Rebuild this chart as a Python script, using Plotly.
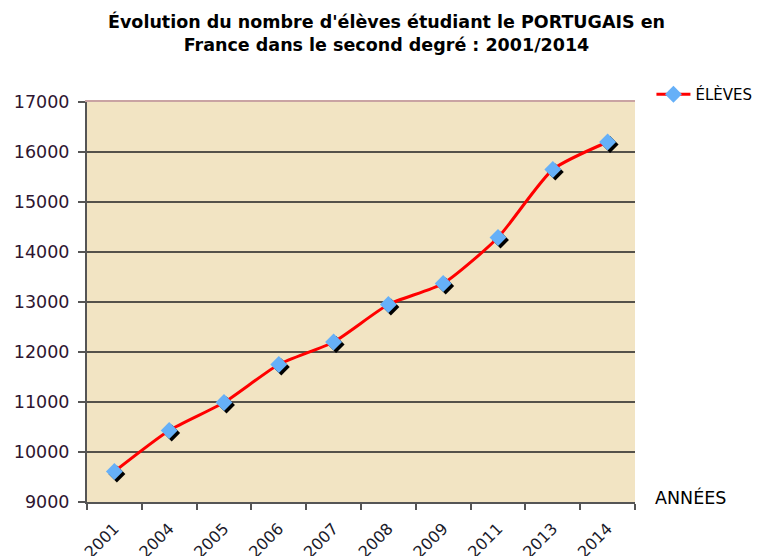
import plotly.graph_objects as go

years = ["2001", "2004", "2005", "2006", "2007", "2008", "2009", "2011", "2013", "2014"]
eleves = [9610, 10430, 10990, 11750, 12200, 12950, 13370, 14290, 15650, 16200]
y_ticks = [9000, 10000, 11000, 12000, 13000, 14000, 15000, 16000, 17000]

series_name = "ÉLÈVES"
title_text = "Évolution du nombre d'élèves étudiant le PORTUGAIS en<br>France dans le second degré : 2001/2014"
x_title = "ANNÉES"

n = len(years)
plot_w = 548.0
plot_h = 400.0
dx = 2.5 / (plot_w / n)
dy = 2.5 * (y_ticks[-1] - y_ticks[0]) / plot_h

font_main = "DejaVu Sans"

fig = go.Figure()

# invisible trace so the base axes (grid, ticks) are laid out
fig.add_trace(go.Scatter(
    x=years, y=eleves, mode="markers", marker=dict(opacity=0),
    showlegend=False, hoverinfo="skip"))

# shadow of the markers (drawn on slightly shifted overlay axes)
fig.add_trace(go.Scatter(
    x=years, y=eleves, mode="markers", xaxis="x2", yaxis="y2",
    marker=dict(symbol="diamond", size=13, color="#000000"),
    showlegend=False, hoverinfo="skip"))

# main series on an unshifted overlay above the shadow
fig.add_trace(go.Scatter(
    x=years, y=eleves, mode="lines+markers", name=series_name,
    xaxis="x3", yaxis="y3",
    line=dict(color="#ff0000", width=3, shape="spline", smoothing=0.6),
    marker=dict(symbol="diamond", size=13, color="#66b0f8",
                line=dict(width=0))))

cat_common = dict(type="category", categoryorder="array", categoryarray=years,
                  automargin=False)

fig.update_layout(
    width=757, height=548,
    margin=dict(l=79, r=130, t=94, b=54, autoexpand=False),
    paper_bgcolor="white",
    plot_bgcolor="#f2e4c3",
    xaxis=dict(**cat_common,
               range=[-0.5, n - 0.5], tickson="boundaries", ticks="outside",
               ticklen=6, tickcolor="#555555", tickwidth=2,
               showline=True, linecolor="#555555", linewidth=2,
               showgrid=False, tickangle=-45, ticklabelstandoff=9,
               tickfont=dict(family=font_main, size=16, color="#1a1a2a")),
    xaxis2=dict(**cat_common, overlaying="x", side="top",
                range=[-0.5 - dx, n - 0.5 - dx], showticklabels=False,
                ticks="", showgrid=False, showline=True,
                linecolor="#c9a3a3", linewidth=2),
    xaxis3=dict(**cat_common, overlaying="x",
                range=[-0.5, n - 0.5], showticklabels=False,
                ticks="", showgrid=False, showline=False),
    yaxis=dict(range=[y_ticks[0], y_ticks[-1]], tickvals=y_ticks,
               tickformat="d", automargin=False,
               ticks="outside", ticklen=7, tickcolor="#555555", tickwidth=2,
               showline=True, linecolor="#555555", linewidth=2,
               showgrid=True, gridcolor="#55514a", gridwidth=1.5,
               ticklabelstandoff=5,
               tickfont=dict(family=font_main, size=17.5, color="#2e1530"),
               zeroline=False),
    yaxis2=dict(range=[y_ticks[0] + dy, y_ticks[-1] + dy], overlaying="y",
                automargin=False, showticklabels=False, ticks="",
                showgrid=False, showline=False, zeroline=False),
    yaxis3=dict(range=[y_ticks[0], y_ticks[-1]], overlaying="y",
                automargin=False, showticklabels=False, ticks="",
                showgrid=False, showline=False, zeroline=False),
    legend=dict(x=1.03, y=1.06, xanchor="left", yanchor="top",
                bgcolor="rgba(0,0,0,0)",
                font=dict(family=font_main, size=15, color="#000000"),
                itemwidth=34),
    showlegend=True,
    annotations=[
        dict(text="<b>" + title_text + "</b>", xref="paper", yref="paper",
             x=0.546, y=1.1725, xanchor="center", yanchor="middle",
             showarrow=False, align="center",
             font=dict(family=font_main, size=17.5, color="#000000")),
        dict(text=x_title, xref="paper", yref="paper",
             x=1.033, y=0.0125, xanchor="left", yanchor="middle",
             showarrow=False,
             font=dict(family=font_main, size=17.5, color="#000000")),
    ],
)

fig.write_html("out.html")
